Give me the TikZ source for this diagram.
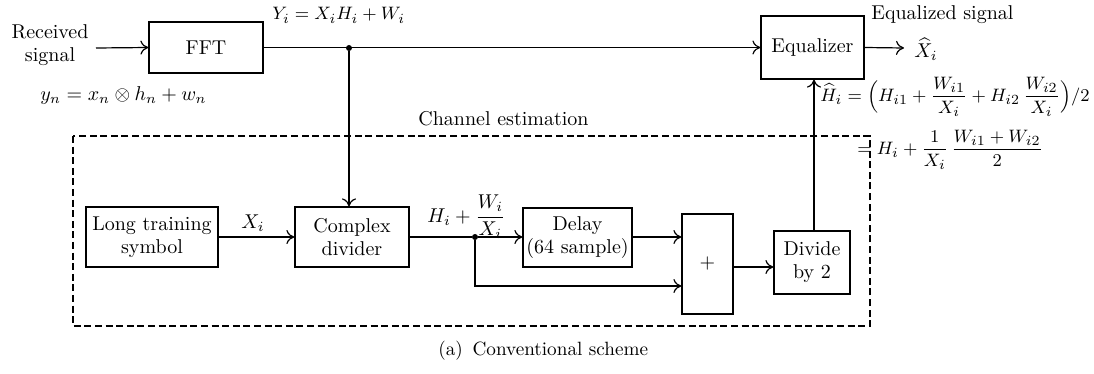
\documentclass[tikz,border=0pt]{standalone}
\usepackage{amsmath}
\usetikzlibrary{arrows.meta}
\begin{document}
\begin{tikzpicture}[x=0.5pt,y=-0.5pt,
  blk/.style={draw,line width=0.6pt,inner sep=0pt,align=center,font=\fontsize{10}{11.5}\selectfont},
  conn/.style={line width=0.6pt},
  arr/.style={conn,->,>={To[length=4pt,width=7pt]}},
  lbl/.style={inner sep=0pt,font=\fontsize{10}{11.5}\selectfont},
  mlbl/.style={inner sep=0pt,font=\fontsize{9.3}{11}\selectfont},
  dot/.style={circle,fill,inner sep=0pt,minimum size=3pt}]
\useasboundingbox (0,0) rectangle (1094,374);
% nodes
\node[blk,minimum width=57pt,minimum height=25.5pt] (fft) at (206,47.5) {FFT};
\node[blk,minimum width=51.5pt,minimum height=31.5pt] (eq) at (812.5,47.5) {Equalizer};
\node[blk,minimum width=66pt,minimum height=30pt] (lts) at (152,237) {Long training\\symbol};
\node[blk,minimum width=57pt,minimum height=30pt] (cd) at (352,237) {Complex\\divider};
\node[blk,minimum width=54.5pt,minimum height=29.5pt] (dly) at (577.5,237.5) {Delay\\(64 sample)};
\node[blk,minimum width=25.5pt,minimum height=50pt] (sum) at (707.5,264) {$+$};
\node[blk,minimum width=38pt,minimum height=31.5pt] (div) at (812,262.5) {Divide\\by 2};
\node[lbl,align=center] (rx) at (50,45) {Received\\signal};
\coordinate (rxe) at (96,48);
\coordinate (out) at (904,48);
\node[dot] (j1) at (349,48) {};
\node[dot] (j2) at (475,237) {};
\coordinate (low) at (475,286);
% labels
\node[mlbl,anchor=base west] (ylab) at (272,20) {$Y_i = X_iH_i + W_i$};
\node[lbl,anchor=west] (yn) at (40,96) {$y_n = x_n \otimes h_n + w_n$};
\node[lbl,anchor=base west] (eqs) at (871,20) {Equalized signal};
\node[lbl,anchor=west] (xh) at (914,49) {$\widehat{X}_i$};
\node[lbl] (xi) at (253,223) {$X_i$};
\node[lbl,anchor=west] (hw) at (427,217) {$H_i + \dfrac{W_i}{X_i}$};
\node[mlbl,anchor=west] (h1) at (820,97) {$\widehat{H}_i = \Bigl(H_{i1} + \dfrac{W_{i1}}{X_i} + H_{i2}\,\dfrac{W_{i2}}{X_i}\Bigr)/2$};
\node[mlbl,anchor=west] (h2) at (857,150) {$=H_i + \dfrac{1}{X_i}\,\dfrac{W_{i1}+W_{i2}}{2}$};
\node[lbl,anchor=base west] (ce) at (418,126) {Channel estimation};
\node[inner sep=0pt,font=\fontsize{9.6}{11}\selectfont,anchor=west] (cap) at (438,351) {(a)\enspace Conventional scheme};
% dashed box
\draw[line width=0.6pt,dash pattern=on 3.5pt off 1.8pt] (73,136) rectangle (870,326);
% connectors
\draw[arr] (rxe) -- (fft.west);
\draw[arr] (fft.east) -- (eq.west);
\draw[arr] (eq.east) -- (out);
\draw[arr] (j1) -- (j1 |- cd.north);
\draw[arr] (lts.east) -- (cd.west);
\draw[conn] (cd.east) -- (j2);
\draw[arr] (j2) -- (dly.west |- j2);
\draw[arr] (dly.east |- j2) -- (sum.west |- j2);
\draw[arr] (j2) -- (low) -- (sum.west |- low);
\draw[arr] (sum.east |- 0,267) -- (div.west |- 0,267);
\draw[arr] (div.north -| 814,0) -- (eq.south -| 814,0);
\end{tikzpicture}
\end{document}
